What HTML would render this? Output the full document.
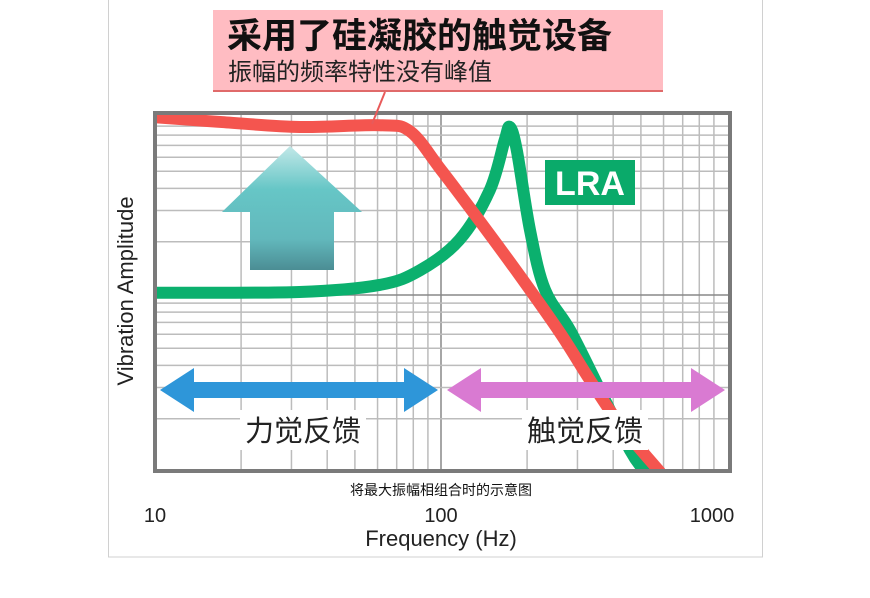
<!DOCTYPE html>
<html><head><meta charset="utf-8"><style>
body{margin:0;background:#fff;}
svg{display:block;font-family:"Liberation Sans","Noto Sans CJK SC",sans-serif;}
</style></head><body>
<svg width="870" height="598" viewBox="0 0 870 598">
<defs>
<linearGradient id="tg" x1="0" y1="0" x2="0" y2="1"><stop offset="0" stop-color="#c2e8e8"/><stop offset="0.35" stop-color="#66c6c6"/><stop offset="0.75" stop-color="#62b8bc"/><stop offset="1" stop-color="#4b8d94"/></linearGradient>
<clipPath id="pc"><rect x="155" y="113" width="575" height="358"/></clipPath>
</defs>
<rect x="108.5" y="-1" width="654" height="558" fill="#fff" stroke="#d0d0d0"/>
<g id="grid"></g>
<g id="curves" clip-path="url(#pc)"></g>
<rect x="155" y="113" width="575" height="358" fill="none" stroke="#7a7a7a" stroke-width="4"/>
<path d="M290 146 L362 212 L334 212 L334 270 L250 270 L250 212 L222 212 Z" fill="url(#tg)"/>
<rect x="545" y="160" width="90" height="45" fill="#0aaa6a"/>
<text x="590" y="195" font-size="34" font-weight="bold" fill="#fff" text-anchor="middle">LRA</text>
<path d="M160 390 L194 368 L194 382 L404 382 L404 368 L438 390 L404 412 L404 398 L194 398 L194 412 Z" fill="#2e96d9"/>
<path d="M447 390 L481 368 L481 382 L691 382 L691 368 L725 390 L691 412 L691 398 L481 398 L481 412 Z" fill="#d97ad2"/>
<rect x="240" y="410" width="126" height="40" fill="#fff"/>
<text x="303" y="441" font-size="29" text-anchor="middle" fill="#222">力觉反馈</text>
<rect x="522" y="410" width="126" height="40" fill="#fff"/>
<text x="585" y="441" font-size="29" text-anchor="middle" fill="#222">触觉反馈</text>
<line x1="385" y1="92" x2="372" y2="124" stroke="#e85a5a" stroke-width="2"/>
<rect x="213" y="10" width="450" height="81" fill="#ffbcc2"/>
<line x1="213" y1="91" x2="663" y2="91" stroke="#e06a6a" stroke-width="2"/>
<text x="227" y="48" font-size="35" font-weight="bold" fill="#111">采用了硅凝胶的触觉设备</text>
<text x="228" y="80" font-size="24" fill="#222">振幅的频率特性没有峰值</text>
<text x="441" y="495" font-size="14" text-anchor="middle" fill="#111">将最大振幅相组合时的示意图</text>
<g id="xticks"></g>
<text x="441" y="546" font-size="22" text-anchor="middle" fill="#222">Frequency (Hz)</text>
<text transform="translate(133,291) rotate(-90)" font-size="22" text-anchor="middle" fill="#222">Vibration Amplitude</text>
</svg>
<script>
const xTickVals=[10,100,1000];
const xTickLabels=["10","100","1000"];
const redFreq=[10,16.9,32,61,78,100,137,189,261,332,423,583];
const redAmp=[101,95,89,91,84,51,26,12.8,6.1,3.3,1.85,1];
const greenFreq=[10,32,61,84.5,116,148,167,174,184,205,231,283,360,458,517];
const greenAmp=[10.3,10.4,11.4,13.8,20.5,39,75,89,66,23,10.7,6.3,2.9,1.33,1];
const NS='http://www.w3.org/2000/svg';
function sx(f){return 155+286*(Math.log10(f)-1);}
function sy(a){return 472-177*Math.log10(a);}
const grid=document.getElementById('grid');
function ln(x1,y1,x2,y2,c,w){const l=document.createElementNS(NS,'line');l.setAttribute('x1',x1);l.setAttribute('y1',y1);l.setAttribute('x2',x2);l.setAttribute('y2',y2);l.setAttribute('stroke',c);l.setAttribute('stroke-width',w);


grid.appendChild(l);}
for(let d=10;d<1000;d*=10){for(let k=1;k<10;k++){const x=sx(d*k);if(x>731)continue;ln(x,113,x,471,k==1?'#888':'#bcbcbc',1.5);}}
for(let d=1;d<100;d*=10){for(let k=1;k<10;k++){const y=sy(d*k);if(y<113)continue;ln(155,y,730,y,k==1?'#888':'#bcbcbc',1.5);}}
function path(fs,as){const p=fs.map((f,i)=>[sx(f),sy(as[i])]);let d='M'+p[0][0]+' '+p[0][1];for(let i=0;i<p.length-1;i++){const p0=p[Math.max(0,i-1)],p1=p[i],p2=p[i+1],p3=p[Math.min(p.length-1,i+2)];const c1=[p1[0]+(p2[0]-p0[0])/6,p1[1]+(p2[1]-p0[1])/6],c2=[p2[0]-(p3[0]-p1[0])/6,p2[1]-(p3[1]-p1[1])/6];d+=` C${c1[0]} ${c1[1]} ${c2[0]} ${c2[1]} ${p2[0]} ${p2[1]}`;}return d;}
const cv=document.getElementById('curves');
function addCurve(fs,as,c,name){const e=document.createElementNS(NS,'path');e.setAttribute('d',path(fs,as));e.setAttribute('fill','none');e.setAttribute('stroke',c);e.setAttribute('stroke-width','12');e.setAttribute('stroke-linecap','round');e.setAttribute('stroke-linejoin','round');


cv.appendChild(e);}
addCurve(greenFreq,greenAmp,'#0bb06e','lra-curve');
addCurve(redFreq,redAmp,'#f4554f','silicone-gel-curve');
const xt=document.getElementById('xticks');
xTickVals.forEach((v,i)=>{const t=document.createElementNS(NS,'text');let x=sx(v);if(i==2)x=712;t.setAttribute('x',x);t.setAttribute('y',522);t.setAttribute('font-size','20');t.setAttribute('text-anchor','middle');t.setAttribute('fill','#222');t.textContent=xTickLabels[i];


xt.appendChild(t);});
</script>
</body></html>
